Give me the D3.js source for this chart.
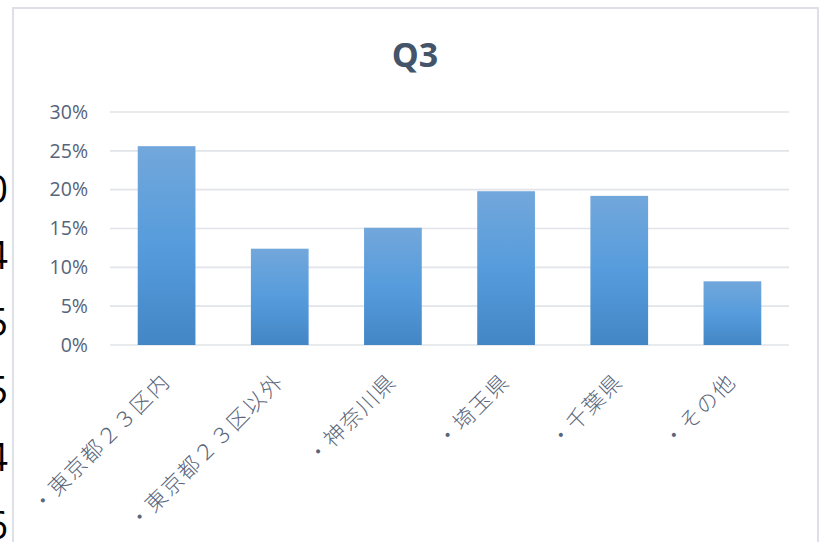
<!DOCTYPE html>
<html><head><meta charset="utf-8">
<script src="https://cdn.jsdelivr.net/npm/d3@7"></script>
<style>
html,body{margin:0;padding:0;background:#fff;}
svg{display:block;}
</style></head>
<body>
<script>
const title = "Q3";
const categories = ["・東京都２３区内","・東京都２３区以外","・神奈川県","・埼玉県","・千葉県","・その他"];
const values = [0.256, 0.124, 0.151, 0.198, 0.192, 0.082];
const yTicks = [0, 0.05, 0.10, 0.15, 0.20, 0.25, 0.30];
const sideDigits = ["0","4","5","5","4","6"];
const sideDigitY = [190, 256, 323, 391, 458, 526];

const W = 828, H = 542;
const svg = d3.select("body").append("svg").attr("width", W).attr("height", H);

// gradient
const defs = svg.append("defs");
const g = defs.append("linearGradient").attr("id","barGrad").attr("x1",0).attr("y1",0).attr("x2",0).attr("y2",1);
g.append("stop").attr("offset","0%").attr("stop-color","#72a7db");
g.append("stop").attr("offset","50%").attr("stop-color","#569cdc");
g.append("stop").attr("offset","100%").attr("stop-color","#4386c6");

// partial digits from sheet behind
svg.append("g").selectAll("text").data(sideDigits).join("text")
  .attr("x", 8).attr("y", (d,i)=>sideDigitY[i]).attr("dy","0.35em")
  .attr("text-anchor","end")
  .attr("font-family","Open Sans, sans-serif").attr("font-weight",400)
  .attr("font-size",38).attr("fill","#000")
  .text(d=>d);

// chart frame
svg.append("rect").attr("x",13).attr("y",8).attr("width",805).attr("height",600)
  .attr("fill","#fff").attr("stroke","#dde1e7").attr("stroke-width",2);

const x = d3.scaleBand().domain(categories).range([110, 789]).paddingInner(0.49).paddingOuter(0.245);
const y = d3.scaleLinear().domain([0, 0.30]).range([345, 112]);

// gridlines
svg.append("g").selectAll("line").data(yTicks).join("line")
  .attr("x1",110).attr("x2",789)
  .attr("y1",d=>y(d)).attr("y2",d=>y(d))
  .attr("stroke","#e1e4e9").attr("stroke-width",1.7);

// y axis labels
const yAxis = d3.axisLeft(y).tickValues(yTicks).tickFormat(d3.format(".0%")).tickSize(0).tickPadding(0);
const ya = svg.append("g").attr("transform","translate(88,0)").call(yAxis);
ya.select(".domain").remove();
ya.selectAll("text").attr("font-family","Open Sans, sans-serif").attr("font-size",19.5).attr("fill","#56637a");

// bars
svg.append("g").selectAll("rect").data(values).join("rect")
  .attr("x",(d,i)=>x(categories[i]))
  .attr("width",x.bandwidth())
  .attr("y",d=>y(d))
  .attr("height",d=>y(0)-y(d))
  .attr("fill","url(#barGrad)");

// x axis labels
const xAxis = d3.axisBottom(x).tickSize(0).tickPadding(0);
const xa = svg.append("g").attr("transform","translate(0,345)").call(xAxis);
xa.select(".domain").remove();
xa.selectAll("text")
  .attr("font-family","Noto Sans CJK JP, sans-serif")
  .attr("font-weight",300)
  .attr("font-size",21.5).attr("fill","#5a667b")
  .attr("letter-spacing","1.6px")
  .attr("text-anchor","end")
  .attr("dy",0).attr("y",0)
  .attr("transform","translate(5,38) rotate(-45)");

// title
svg.append("text").attr("x",415).attr("y",67)
  .attr("text-anchor","middle")
  .attr("font-family","Open Sans, sans-serif").attr("font-weight","bold")
  .attr("font-size",34).attr("fill","#44546a")
  .text(title);
</script>
</body></html>
